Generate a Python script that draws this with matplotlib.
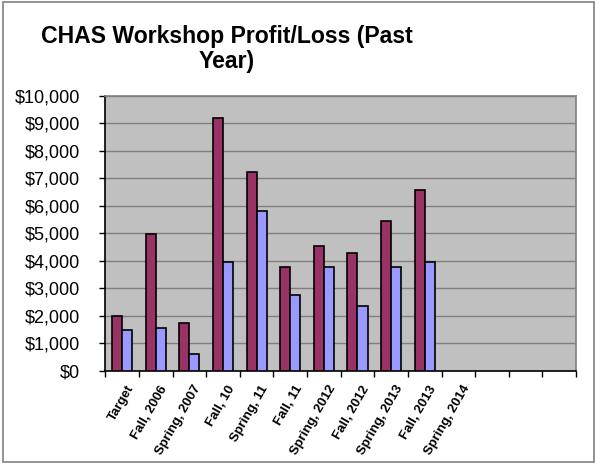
import numpy as np
import matplotlib.pyplot as plt
from matplotlib.patches import Rectangle
from matplotlib.ticker import FuncFormatter
from matplotlib.transforms import ScaledTranslation

# -------------------------------
# Data
# -------------------------------
categories = ["Target", "Fall, 2006", "Spring, 2007", "Fall, 10", "Spring, 11",
              "Fall, 11", "Spring, 2012", "Fall, 2012", "Spring, 2013",
              "Fall, 2013", "Spring, 2014", "", "", ""]
series_a = [2000, 4980, 1740, 9200, 7220, 3760, 4540, 4290, 5430, 6560]
series_b = [1500, 1570, 620, 3960, 5800, 2750, 3770, 2370, 3770, 3950]
y_ticks = list(range(0, 10001, 1000))

plt.rcParams['font.family'] = ['Liberation Sans', 'DejaVu Sans']

fig = plt.figure(figsize=(5.95, 4.63), dpi=100)
ax = fig.add_axes([105.3 / 595, 1 - 370.8 / 463, (576 - 105.3) / 595, (370.8 - 95.7) / 463])

# outer chart border
fig.patches.append(Rectangle((2.5 / 595, 1.5 / 463), 591.5 / 595, 459.5 / 463,
                             transform=fig.transFigure, fill=False,
                             edgecolor="#808080", linewidth=1.2))

ax.set_facecolor("#C0C0C0")
w = 0.3
xa = np.arange(len(series_a))
xb = np.arange(len(series_b))
ax.bar(xa - w / 2, series_a, width=w, color="#993366", edgecolor="black", linewidth=1.2, zorder=3)
ax.bar(xb + w / 2, series_b, width=w, color="#9999FF", edgecolor="black", linewidth=1.2, zorder=3)

ax.set_xlim(-0.5, len(categories) - 0.5)
ax.set_ylim(0, 10000)
ax.set_yticks(y_ticks)
ax.yaxis.set_major_formatter(FuncFormatter(lambda v, p: f"${v:,.0f}"))
ax.grid(axis="y", color="#808080", linewidth=1, zorder=1)
ax.tick_params(axis="y", direction="out", length=4, width=1, pad=14, labelsize=13)

ax.set_xticks(np.arange(len(categories)))
ax.set_xticklabels(categories, rotation=60, ha="right", va="top", rotation_mode="anchor",
                   fontsize=9.5, fontweight="bold")
ax.tick_params(axis="x", which="major", length=0, pad=9)
shift = ScaledTranslation(4 / 100, 0, fig.dpi_scale_trans)
for lbl in ax.get_xticklabels():
    lbl.set_transform(lbl.get_transform() + shift)
ax.set_xticks(np.arange(len(categories) + 1) - 0.5, minor=True)
ax.tick_params(axis="x", which="minor", direction="out", length=4, width=1)

for side in ["left", "bottom"]:
    ax.spines[side].set_color("black")
    ax.spines[side].set_linewidth(1.2)
for side in ["top", "right"]:
    ax.spines[side].set_color("#808080")
    ax.spines[side].set_linewidth(1.2)
ax.set_axisbelow(True)

fig.text(227 / 595, 1 - 43 / 463, "CHAS Workshop Profit/Loss (Past",
         ha="center", va="baseline", fontsize=16.6, fontweight="bold")
fig.text(227 / 595, 1 - 68 / 463, "Year)",
         ha="center", va="baseline", fontsize=16.6, fontweight="bold")

fig.savefig("out.png", dpi=100)
